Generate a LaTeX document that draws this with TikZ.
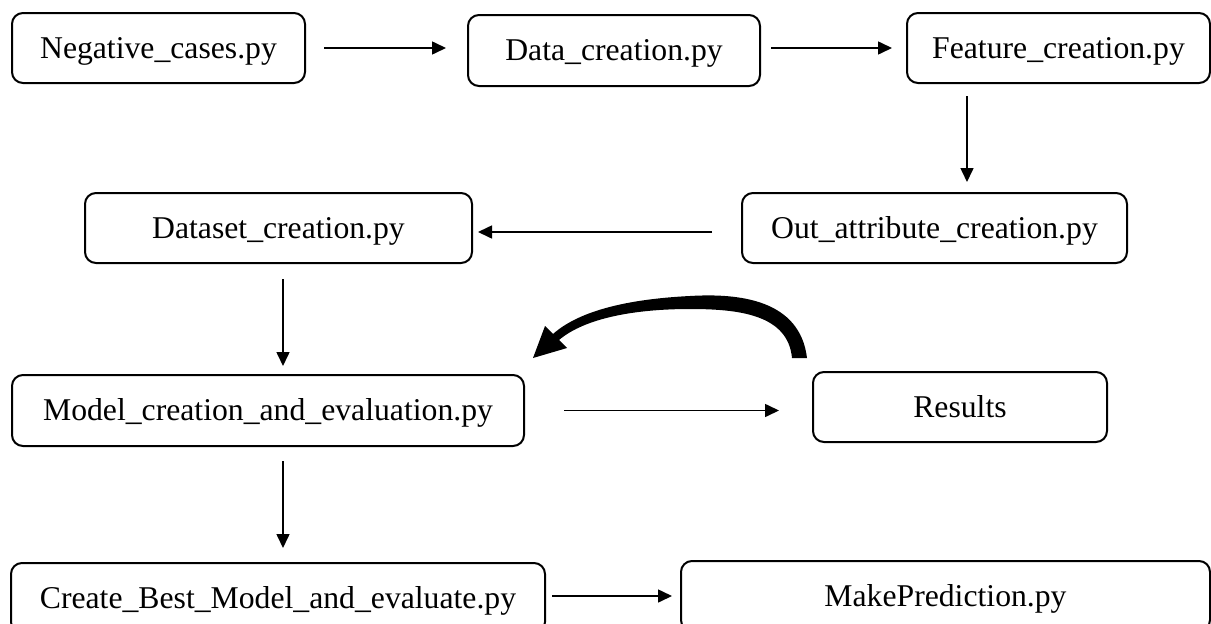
\documentclass[tikz,border=0pt]{standalone}
\usepackage{fontspec}
\setmainfont{Liberation Serif}
\usetikzlibrary{arrows.meta,calc}
\begin{document}
\begin{tikzpicture}[x=1pt,y=-1pt,
  box/.style={draw, line width=2pt, rounded corners=11pt, inner sep=0pt,
    text height=24pt, text depth=4pt,
    font=\fontsize{31.7}{38}\selectfont},
  arr/.style={line width=1.6pt, -{Triangle[length=14pt,width=13pt]}}]
\useasboundingbox (0,0) rectangle (1211,624);
\clip (0,0) rectangle (1211,624);
\node[box, minimum width=293pt, minimum height=70pt] (neg) at (158.5,48) {Negative\_cases.py};
\node[box, minimum width=292pt, minimum height=71pt] (data) at (614,50.5) {Data\_creation.py};
\node[box, minimum width=303pt, minimum height=70pt] (feat) at (1058.5,48) {Feature\_creation.py};
\node[box, minimum width=385pt, minimum height=70pt] (out) at (934.5,228) {Out\_attribute\_creation.py};
\node[box, minimum width=387pt, minimum height=70pt] (dset) at (278.5,228) {Dataset\_creation.py};
\node[box, minimum width=512pt, minimum height=71pt] (model) at (268,410.5) {Model\_creation\_and\_evaluation.py};
\node[box, minimum width=294pt, minimum height=70pt] (res) at (960,407) {Results};
\node[box, minimum width=534pt, minimum height=70pt] (best) at (278,598) {Create\_Best\_Model\_and\_evaluate.py};
\node[box, minimum width=529pt, minimum height=70pt] (pred) at (945.5,596) {MakePrediction.py};

\draw[arr, shorten <=18pt, shorten >=21pt] (neg.east) -- (neg.east -| data.west);
\draw[arr, shorten <=10pt, shorten >=14pt] (data.east |- neg.east) -- (feat.west);
\coordinate (f1) at ([xshift=-91.5pt]feat.south);
\draw[arr, shorten <=12pt, shorten >=10pt] (f1) -- (f1 |- out.north);
\coordinate (o1) at ([yshift=-4pt]out.west);
\draw[arr, shorten <=29pt, shorten >=5pt] (o1) -- (o1 -| dset.east);
\coordinate (d1) at ([xshift=4.5pt]dset.south);
\draw[arr, shorten <=15pt, shorten >=8pt] (d1) -- (d1 |- model.north);
\draw[arr, shorten <=14pt, shorten >=14pt] (d1 |- model.south) -- (d1 |- best.north);
\draw[arr, shorten <=39pt, shorten >=33pt] (model.east) -- (model.east -| res.west);
\coordinate (b1) at ([yshift=2pt]best.east);
\draw[arr, shorten <=6pt, shorten >=8pt] (b1) -- (b1 -| pred.west);

% thick curved block arrow from Results back to Model
\fill (807,358) .. controls (800,300) and (740,293) .. (690,296)
  .. controls (630,299) and (580,310) .. (553,334)
  -- (545,326) -- (533,358) -- (567,348) -- (559,340)
  .. controls (585,318) and (635,309) .. (690,309)
  .. controls (740,309) and (788,315) .. (792,358) -- cycle;
\end{tikzpicture}
\end{document}
